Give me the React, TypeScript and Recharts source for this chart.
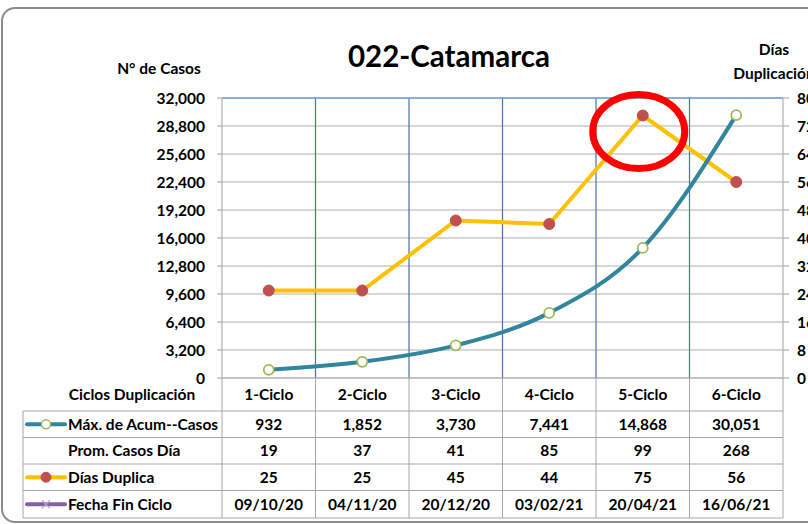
import React from 'react';
import {
  ComposedChart,
  Line,
  XAxis,
  YAxis,
  CartesianGrid,
  ReferenceDot,
  ReferenceLine,
} from 'recharts';

// ---------- data ----------
const ciclos = ['1-Ciclo', '2-Ciclo', '3-Ciclo', '4-Ciclo', '5-Ciclo', '6-Ciclo'];
const maxAcumCasos = [932, 1852, 3730, 7441, 14868, 30051];
const promCasosDia = [19, 37, 41, 85, 99, 268];
const diasDuplica = [25, 25, 45, 44, 75, 56];
const fechaFinCiclo = ['09/10/20', '04/11/20', '20/12/20', '03/02/21', '20/04/21', '16/06/21'];
const leftTicks = [0, 3200, 6400, 9600, 12800, 16000, 19200, 22400, 25600, 28800, 32000];
const rightTicks = [0, 8, 16, 24, 32, 40, 48, 56, 64, 72, 80];
const highlightedCiclo = '5-Ciclo';
const highlightedDias = 75;

const rowLabels = ['Máx. de Acum--Casos', 'Prom. Casos Día', 'Días Duplica', 'Fecha Fin Ciclo'];

const data = ciclos.map((c, i) => ({
  ciclo: c,
  acum: maxAcumCasos[i],
  dias: diasDuplica[i],
}));

// ---------- layout ----------
const W = 808;
const H = 524;
const PLOT_TOP = 98;
const PLOT_BOTTOM = 378;
const PLOT_LEFT = 222;
const PLOT_RIGHT = 783;
const COL_W = (PLOT_RIGHT - PLOT_LEFT) / ciclos.length;
const ROW_LINES = [33, 59.5, 86, 112.5, 140];
const HEADER_CY = 16;
const TABLE_LEFT = 23;
const FONT = 'Lato, "Open Sans", sans-serif';
const GRID = '#b0b0b0';
const TABLE_LINE = '#a6a6a6';
const TEAL = '#31859c';
const YELLOW = '#ffc000';
const RED = '#c0504d';
const GREEN = '#9bbb59';
const PURPLE = '#8064a2';

const fmt = (v: number) => v.toLocaleString('en-US');

const rowValues = (i: number) => [
  fmt(maxAcumCasos[i]),
  String(promCasosDia[i]),
  String(diasDuplica[i]),
  fechaFinCiclo[i],
];

const rowCenter = (r: number) => (ROW_LINES[r] + ROW_LINES[r + 1]) / 2;

const TableColumn = (props: any) => {
  const { x, y, index, payload } = props;
  const base = y;
  const left = x - COL_W / 2;
  const right = x + COL_W / 2;
  const last = ROW_LINES[ROW_LINES.length - 1];
  return (
    <g>
      <text
        x={x}
        y={base + HEADER_CY}
        dy="0.36em"
        textAnchor="middle"
        fontSize={15.5}
        fontWeight={700}
        fill="#000"
        fontFamily={FONT}
      >
        {payload.value}
      </text>
      {ROW_LINES.map((r, k) => (
        <line key={k} x1={left} x2={right} y1={base + r} y2={base + r} stroke={TABLE_LINE} strokeWidth={1} />
      ))}
      <line x1={right} x2={right} y1={base} y2={base + last} stroke={TABLE_LINE} strokeWidth={1} />
      {index === 0 && (
        <line x1={left} x2={left} y1={base} y2={base + last} stroke={TABLE_LINE} strokeWidth={1} />
      )}
      {rowValues(index).map((v, r) => (
        <text
          key={r}
          x={x}
          y={base + rowCenter(r)}
          dy="0.36em"
          textAnchor="middle"
          fontSize={15.5}
          fontWeight={700}
          fill="#000"
          fontFamily={FONT}
        >
          {v}
        </text>
      ))}
    </g>
  );
};

const Highlight = (props: any) => {
  const { cx, cy } = props;
  if (cx == null || cy == null) return null;
  return <ellipse cx={cx - 4} cy={cy + 16} rx={46} ry={37} fill="none" stroke="#ff0000" strokeWidth={7} />;
};

const Overlay = () => {
  const base = PLOT_BOTTOM;
  const last = ROW_LINES[ROW_LINES.length - 1];
  const iconL = 27;
  const iconR = 65;
  const iconC = 46;
  return (
    <svg
      width={W}
      height={H}
      style={{ position: 'absolute', left: 0, top: 0, pointerEvents: 'none' }}
      fontFamily={FONT}
    >
      <text x={449} y={67} textAnchor="middle" fontSize={29.5} fontWeight={700} fill="#000">
        022-Catamarca
      </text>
      <text x={159} y={74} textAnchor="middle" fontSize={15.5} fontWeight={700} fill="#000">
        N° de Casos
      </text>
      <text x={774} y={55} textAnchor="middle" fontSize={15.5} fontWeight={700} fill="#000">
        Días
      </text>
      <text x={774} y={79} textAnchor="middle" fontSize={15.5} fontWeight={700} fill="#000">
        Duplicación
      </text>
      <text x={132} y={base + HEADER_CY} dy="0.36em" textAnchor="middle" fontSize={15.5} fontWeight={700} fill="#000">
        Ciclos Duplicación
      </text>
      {ROW_LINES.map((r, k) => (
        <line key={k} x1={TABLE_LEFT} x2={PLOT_LEFT} y1={base + r} y2={base + r} stroke={TABLE_LINE} strokeWidth={1} />
      ))}
      <line x1={TABLE_LEFT} x2={TABLE_LEFT} y1={base + ROW_LINES[0]} y2={base + last} stroke={TABLE_LINE} strokeWidth={1} />
      {rowLabels.map((lab, r) => (
        <text
          key={r}
          x={68}
          y={base + rowCenter(r)}
          dy="0.36em"
          fontSize={15.5}
          fontWeight={700}
          fill="#000"
        >
          {lab}
        </text>
      ))}
      {/* legend icons */}
      <g>
        <line x1={iconL} x2={iconR} y1={base + rowCenter(0)} y2={base + rowCenter(0)} stroke={TEAL} strokeWidth={4} strokeLinecap="round" />
        <circle cx={iconC} cy={base + rowCenter(0)} r={4.5} fill="#fff" stroke={GREEN} strokeWidth={1.5} />
        <line x1={iconL} x2={iconR} y1={base + rowCenter(2)} y2={base + rowCenter(2)} stroke={YELLOW} strokeWidth={4} strokeLinecap="round" />
        <circle cx={iconC} cy={base + rowCenter(2)} r={5} fill={RED} stroke={RED} />
        <line x1={iconL} x2={iconR} y1={base + rowCenter(3)} y2={base + rowCenter(3)} stroke={PURPLE} strokeWidth={4} strokeLinecap="round" />
        <path
          d={`M${iconC - 4},${base + rowCenter(3) - 4} L${iconC + 4},${base + rowCenter(3) + 4} M${iconC - 4},${base + rowCenter(3) + 4} L${iconC + 4},${base + rowCenter(3) - 4}`}
          stroke="#b3a2c7"
          strokeWidth={1.2}
        />
      </g>
    </svg>
  );
};

export default function App() {
  return (
    <div
      style={{
        position: 'absolute',
        left: 0,
        top: 0,
        width: W,
        height: H,
        overflow: 'hidden',
        background: '#fff',
        fontFamily: FONT,
      }}
    >
      <div
        style={{
          position: 'absolute',
          left: 1,
          top: 7,
          width: 900,
          height: 512,
          border: '2.5px solid #8c8c8c',
          borderRadius: 14,
          background: '#fff',
        }}
      />
      <div style={{ position: 'absolute', left: 0, top: 0 }}>
        <ComposedChart
          width={W}
          height={H}
          data={data}
          margin={{ top: PLOT_TOP, right: 0, bottom: 0, left: 0 }}
          style={{ fontFamily: FONT }}
        >
          <CartesianGrid yAxisId="left" vertical={false} stroke={GRID} strokeWidth={1.2} />
          <CartesianGrid
            yAxisId="left"
            horizontal={false}
            stroke="#4a70a8"
            strokeWidth={1.2}
            verticalCoordinatesGenerator={({ offset }: any) =>
              ciclos.slice(1).map((_, i) => offset.left + ((i + 1) * offset.width) / ciclos.length)
            }
          />
          <XAxis
            dataKey="ciclo"
            scale="band"
            height={H - PLOT_BOTTOM}
            interval={0}
            tickLine={false}
            tickSize={0}
            tickMargin={0}
            axisLine={{ stroke: GRID, strokeWidth: 1.2 }}
            tick={<TableColumn />}
          />
          <YAxis
            yAxisId="left"
            domain={[0, 32000]}
            ticks={leftTicks}
            interval={0}
            width={PLOT_LEFT}
            tickSize={5}
            tickMargin={12}
            tickFormatter={fmt}
            axisLine={{ stroke: GRID, strokeWidth: 1.2 }}
            tickLine={{ stroke: GRID, strokeWidth: 1.2 }}
            tick={{ fill: '#000', fontSize: 15.5, fontWeight: 700 }}
          />
          <YAxis
            yAxisId="right"
            orientation="right"
            domain={[0, 80]}
            ticks={rightTicks}
            interval={0}
            width={W - PLOT_RIGHT}
            tickSize={6}
            tickMargin={8}
            axisLine={{ stroke: GRID, strokeWidth: 1.2 }}
            tickLine={{ stroke: GRID, strokeWidth: 1.2 }}
            tick={{ fill: '#000', fontSize: 15.5, fontWeight: 700, textAnchor: 'start' }}
          />
          <ReferenceLine yAxisId="left" y={32000} stroke="#6f9fd6" strokeWidth={1.5} />
          <Line
            yAxisId="right"
            dataKey="dias"
            type="linear"
            stroke={YELLOW}
            strokeWidth={4}
            dot={{ r: 5.5, fill: RED, stroke: RED, strokeWidth: 1 }}
            isAnimationActive={false}
          />
          <Line
            yAxisId="left"
            dataKey="acum"
            type="monotone"
            stroke={TEAL}
            strokeWidth={4}
            dot={{ r: 5, fill: '#fff', stroke: GREEN, strokeWidth: 1.8 }}
            isAnimationActive={false}
          />
          <ReferenceDot
            yAxisId="right"
            x={highlightedCiclo}
            y={highlightedDias}
            shape={<Highlight />}
          />
        </ComposedChart>
      </div>
      <Overlay />
    </div>
  );
}
